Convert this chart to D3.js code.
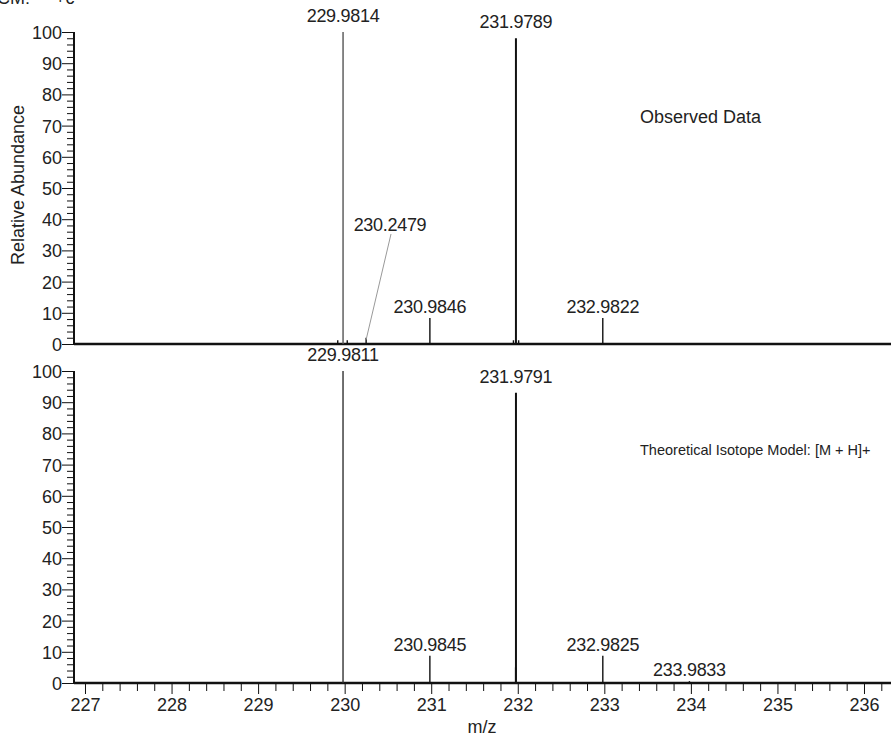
<!DOCTYPE html>
<html>
<head>
<meta charset="utf-8">
<script src="https://cdn.jsdelivr.net/npm/d3@7"></script>
<style>
  html, body { margin: 0; padding: 0; background: #fff; }
  svg { display: block; }
  text { font-family: "Liberation Sans", Arial, sans-serif; fill: #222; }
</style>
</head>
<body>
<svg id="chart" width="891" height="738"></svg>
<script>
// ---- Data ----
const observedMz     = [229.92, 229.9814, 230.03, 230.2479, 230.9846, 231.95, 231.9789, 232.01, 232.9822];
const observedAbund  = [1.2, 100, 1.2, 2, 8.3, 1.2, 98, 1.2, 8.3];
const observedLabels = ["", "229.9814", "", "230.2479", "230.9846", "", "231.9789", "", "232.9822"];

const theoreticalMz     = [229.9811, 230.9845, 231.975, 231.9791, 232.9825, 233.9833];
const theoreticalAbund  = [100, 8.7, 5, 93, 8.7, 0.6];
const theoreticalLabels = ["229.9811", "230.9845", "", "231.9791", "232.9825", "233.9833"];

const xMajorTicks = [227, 228, 229, 230, 231, 232, 233, 234, 235, 236];
const yMajorTicks = [0, 10, 20, 30, 40, 50, 60, 70, 80, 90, 100];
const panelTitles = ["Observed Data", "Theoretical Isotope Model: [M + H]+"];

// ---- Layout ----
const svg = d3.select("#chart");
const left = 74, right = 891;
const x = d3.scaleLinear().domain([226.873, 236.312]).range([left, right]);
const yTop = d3.scaleLinear().domain([0, 100]).range([344, 32]);
const yBot = d3.scaleLinear().domain([0, 100]).range([683, 371]);
const FS = 18;

// header (cut at top, as in the reference)
svg.append("text").attr("x", -3).attr("y", 4).attr("font-size", FS).text("CM:");
svg.append("text").attr("x", 55).attr("y", 4).attr("font-size", FS).text("+c");

// y label
svg.append("text")
  .attr("transform", "translate(24,185) rotate(-90)")
  .attr("text-anchor", "middle")
  .attr("font-size", FS)
  .text("Relative Abundance");

function yAxis(y) {
  const minor = d3.range(0, 101, 2).filter(v => v % 10 !== 0);
  const g = svg.append("g").attr("transform", `translate(${left},0)`);
  g.call(d3.axisLeft(y).tickValues(minor).tickSize(7).tickFormat(""))
    .call(s => s.select(".domain").remove());
  g.selectAll("line").attr("stroke", "#111").attr("stroke-width", 1);
  const g2 = svg.append("g").attr("transform", `translate(${left},0)`);
  g2.call(d3.axisLeft(y).tickValues(yMajorTicks).tickSize(12).tickPadding(0).tickFormat(d3.format("d")))
    .call(s => s.select(".domain").remove());
  g2.selectAll("line").attr("stroke", "#111").attr("stroke-width", 1);
  g2.selectAll("text").attr("font-size", FS).attr("font-family", "Liberation Sans, Arial, sans-serif")
    .attr("fill", "#222").attr("dy", "0.36em");
  svg.append("line").attr("x1", left).attr("x2", left)
    .attr("y1", y(100)).attr("y2", y(0)).attr("stroke", "#111").attr("stroke-width", 2);
  svg.append("line").attr("x1", left).attr("x2", right)
    .attr("y1", y(0)).attr("y2", y(0)).attr("stroke", "#111").attr("stroke-width", 2.5);
}

function peaks(y, mz, ab, labels, offsetLabel, mainColor) {
  const data = mz.map((m, i) => ({ m, a: ab[i], l: labels[i], i }));
  svg.append("g").selectAll("line").data(data).join("line")
    .attr("x1", d => x(d.m)).attr("x2", d => x(d.m))
    .attr("y1", y(0)).attr("y2", d => y(d.a))
    .attr("stroke", d => d.a > 99 ? mainColor : "#111")
    .attr("stroke-width", d => d.a > 50 && d.a < 99 ? 2 : 1.4);
  data.filter(d => d.l).forEach(d => {
    if (offsetLabel && d.l === offsetLabel.label) {
      svg.append("line")
        .attr("x1", x(d.m)).attr("y1", y(d.a) + 2)
        .attr("x2", offsetLabel.lx + 1).attr("y2", offsetLabel.ly + 3)
        .attr("stroke", "#999").attr("stroke-width", 1);
      svg.append("text").attr("x", offsetLabel.lx).attr("y", offsetLabel.ly)
        .attr("text-anchor", "middle").attr("font-size", FS).attr("letter-spacing", "-0.3").text(d.l);
    } else {
      const gap = d.a > 50 ? 10 : 5;
      svg.append("text").attr("x", x(d.m)).attr("y", y(d.a) - gap)
        .attr("text-anchor", "middle").attr("font-size", FS).attr("letter-spacing", "-0.3").text(d.l);
    }
  });
}

yAxis(yTop);
yAxis(yBot);
peaks(yTop, observedMz, observedAbund, observedLabels, { label: "230.2479", lx: 390, ly: 231 }, "#555");
peaks(yBot, theoreticalMz, theoreticalAbund, theoreticalLabels, null, "#333");

// x axis
const minorX = d3.range(227.2, 236.3, 0.2).filter(v => Math.abs(v - Math.round(v)) > 0.01);
const gx1 = svg.append("g").attr("transform", `translate(0,${yBot(0)})`)
  .call(d3.axisBottom(x).tickValues(minorX).tickSize(8).tickFormat(""));
gx1.select(".domain").remove();
gx1.selectAll("line").attr("stroke", "#111");
const gx2 = svg.append("g").attr("transform", `translate(0,${yBot(0)})`)
  .call(d3.axisBottom(x).tickValues(xMajorTicks).tickSize(11).tickPadding(4).tickFormat(d3.format("d")));
gx2.select(".domain").remove();
gx2.selectAll("line").attr("stroke", "#111");
gx2.selectAll("text").attr("font-size", FS).attr("font-family", "Liberation Sans, Arial, sans-serif")
  .attr("fill", "#222");

svg.append("text").attr("x", 482).attr("y", 733).attr("text-anchor", "middle")
  .attr("font-size", FS).text("m/z");

// panel titles
svg.append("text").attr("x", 640).attr("y", 123).attr("font-size", FS).text(panelTitles[0]);
svg.append("text").attr("x", 640).attr("y", 455).attr("font-size", 14.5).text(panelTitles[1]);
</script>
</body>
</html>
